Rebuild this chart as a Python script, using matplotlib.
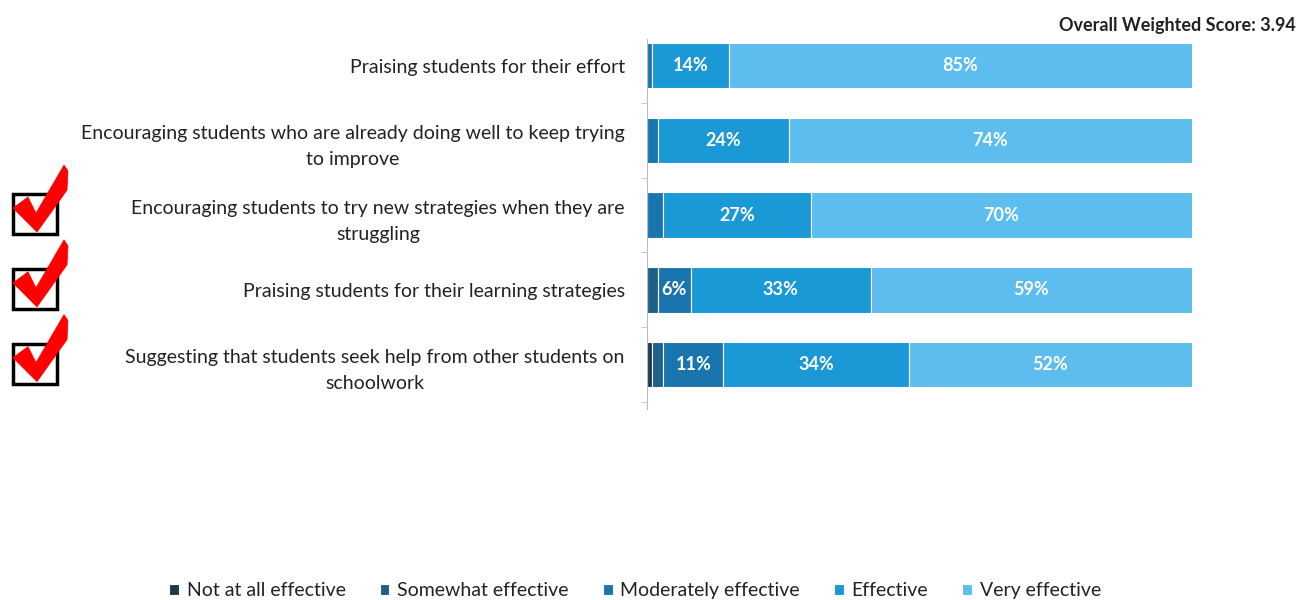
import matplotlib.pyplot as plt
from matplotlib.patches import Polygon, Rectangle
import numpy as np

plt.rcParams['font.family'] = ['Lato', 'DejaVu Sans']

# Dados (percentuais)
categorias = [
    "Praising students for their effort",
    "Encouraging students who are already doing well to keep trying\nto improve",
    "Encouraging students to try new strategies when they are\nstruggling",
    "Praising students for their learning strategies",
    "Suggesting that students seek help from other students on\nschoolwork",
]
niveis = ["Not at all effective", "Somewhat effective", "Moderately effective",
          "Effective", "Very effective"]
nada = [0, 0, 0, 0, 1]
pouco = [0, 0, 0, 2, 2]
moderado = [1, 2, 3, 6, 11]
efetivo = [14, 24, 27, 33, 34]
muito = [85, 74, 70, 59, 52]
marcados = [False, False, True, True, True]
score = "Overall Weighted Score: 3.94"

cores = ["#1c3a4f", "#1d6088", "#1a74ad", "#1b98d6", "#5cbdee"]

fig = plt.figure(figsize=(13.04, 6), dpi=100)
ax = fig.add_axes([0.4962, 0.33, 0.418, 0.623])

series = [nada, pouco, moderado, efetivo, muito]
y = np.arange(len(categorias))
esquerda = np.zeros(len(categorias))
for valores, cor, nome in zip(series, cores, niveis):
    valores = np.array(valores, dtype=float)
    ax.barh(y, valores, left=esquerda, height=0.61, color=cor,
            edgecolor="white", linewidth=0.8, label=nome)
    for yi, (l, v) in enumerate(zip(esquerda, valores)):
        if v >= 5:
            ax.text(l + v / 2, yi, f"{v:.0f}%", ha="center", va="center",
                    color="white", fontsize=13, fontweight="bold")
    esquerda += valores

ax.set_xlim(0, 100)
ax.set_ylim(len(categorias) - 0.5, -0.5)
ax.set_yticks(y)
ax.set_yticklabels(categorias, fontsize=14, color="#222222", linespacing=1.65,
                   multialignment="center")
ax.set_yticks(np.arange(len(categorias)) + 0.5, minor=True)
ax.tick_params(axis="y", which="major", length=0, pad=16)
ax.tick_params(axis="y", which="minor", length=4, color="#bbbbbb", direction="out")
ax.set_xticks([])
for lado in ["top", "right", "bottom"]:
    ax.spines[lado].set_visible(False)
ax.spines["left"].set_color("#bbbbbb")
ax.spines["left"].set_bounds(-0.35, 4.6)

fig.text(0.994, 0.958, score, ha="right", va="center", fontsize=13,
         fontweight="bold", color="#222222")

fig.legend(loc="lower center", bbox_to_anchor=(0.487, -0.028), ncol=5,
           frameon=False, fontsize=14, handlelength=0.5, handleheight=0.5,
           handletextpad=0.4, columnspacing=1.75, labelcolor="#222222")

# Caixas de seleção (decoração) alinhadas às linhas marcadas
ov = fig.add_axes([0, 0, 1, 1], zorder=5)
ov.set_xlim(0, 1304)
ov.set_ylim(600, 0)
ov.axis("off")
fig.canvas.draw()
for i, m in enumerate(marcados):
    if not m:
        continue
    yc = 600 - ax.transData.transform((0, i))[1]
    ov.add_patch(Rectangle((13, yc - 21), 44, 40, fill=False,
                           edgecolor="black", linewidth=2.5))
    pts = [(13, yc - 7), (28, yc - 18), (36, yc - 2), (64, yc - 50),
           (68, yc - 44), (67, yc - 25), (37, yc + 17)]
    ov.add_patch(Polygon(pts, closed=True, facecolor="#ff0000",
                         edgecolor="#ff0000", linewidth=0.5))

fig.savefig("out.png", dpi=100)
